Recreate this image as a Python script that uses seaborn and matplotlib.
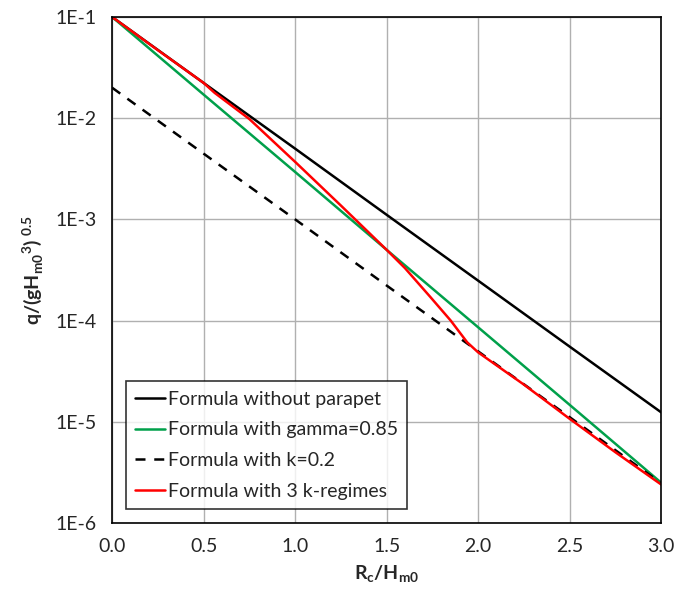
import matplotlib
matplotlib.use("Agg")
import matplotlib.pyplot as plt
import matplotlib.ticker as mticker
import pandas as pd
import seaborn as sns

# values
x_main = [0.0, 0.5, 1.0, 1.5, 2.0, 2.5, 3.0]
q_no_parapet = [0.1, 0.0223, 0.005, 0.00111, 0.000248, 0.0000553, 0.0000124]
q_gamma = [0.1, 0.0171, 0.00294, 0.0005, 0.0000858, 0.0000147, 0.0000025]
q_k02 = [0.02, 0.00446, 0.001, 0.000222, 0.0000496, 0.0000111, 0.00000247]

x_regimes = [0.0, 0.25, 0.5, 0.56, 0.75, 1.0, 1.25, 1.5, 1.6, 1.74, 1.85, 1.94,
             2.0, 2.25, 2.5, 2.75, 3.0]
q_regimes = [0.1, 0.047, 0.0223, 0.0178, 0.0098, 0.0037, 0.00137, 0.0005,
             0.00033, 0.00017, 0.0001, 0.000061, 0.0000485, 0.0000233,
             0.0000107, 0.000005, 0.0000024]

labels = ["Formula without parapet", "Formula with gamma=0.85",
          "Formula with k=0.2", "Formula with 3 k-regimes"]

sns.set_style("white")
plt.rcParams["font.family"] = ["Lato", "DejaVu Sans"]

fig = plt.figure(figsize=(6.88, 5.90), dpi=100)
ax = fig.add_axes([0.163, 0.1136, 0.798, 0.8576])

main = pd.DataFrame({"x": x_main, "a": q_no_parapet, "b": q_gamma, "c": q_k02})
red = pd.DataFrame({"x": x_regimes, "q": q_regimes})

sns.lineplot(data=main, x="x", y="a", ax=ax, color="black", lw=1.8, label=labels[0])
sns.lineplot(data=main, x="x", y="b", ax=ax, color="#00a04a", lw=1.8, label=labels[1])
sns.lineplot(data=main, x="x", y="c", ax=ax, color="black", lw=1.8,
             linestyle=(0, (4, 3.5)), label=labels[2])
sns.lineplot(data=red, x="x", y="q", ax=ax, color="#ff0000", lw=1.8, label=labels[3])

ax.set_yscale("log")
ax.set_xlim(0, 3)
ax.set_ylim(1e-6, 1e-1)

ax.set_xticks([0, 0.5, 1.0, 1.5, 2.0, 2.5, 3.0])
ax.xaxis.set_major_formatter(mticker.FormatStrFormatter("%.1f"))
ax.xaxis.set_minor_locator(mticker.MultipleLocator(0.1))
ax.set_yticks([1e-6, 1e-5, 1e-4, 1e-3, 1e-2, 1e-1])
ax.set_yticklabels(["1E-6", "1E-5", "1E-4", "1E-3", "1E-2", "1E-1"])
ax.yaxis.set_minor_locator(mticker.LogLocator(base=10, subs=range(2, 10), numticks=20))
ax.yaxis.set_minor_formatter(mticker.NullFormatter())

ax.tick_params(axis="both", which="both", direction="in", labelsize=14,
               top=False, right=False, color="black")
ax.tick_params(axis="both", which="major", length=7, width=1, pad=11)
ax.tick_params(axis="both", which="minor", length=4, width=1)

ax.grid(True, which="major", color="#b0b0b0", lw=1)
for s in ax.spines.values():
    s.set_color("black")
    s.set_linewidth(1.2)

ax.set_xlabel("R$_\\mathregular{c}$/H$_\\mathregular{m0}$", fontsize=14,
              fontweight="bold", labelpad=6)
ax.set_ylabel("q/(gH$_\\mathregular{m0}$$^\\mathregular{3}$)$^\\mathregular{\\ 0.5}$",
              fontsize=14, fontweight="bold", labelpad=8)

leg = ax.legend(loc="lower left", fontsize=14, frameon=True, fancybox=False,
                edgecolor="black", handlelength=1.5, handletextpad=0.15,
                borderaxespad=0.7, labelspacing=0.7, borderpad=0.5)
leg.get_frame().set_linewidth(1.2)

fig.savefig("out.png", dpi=100)
